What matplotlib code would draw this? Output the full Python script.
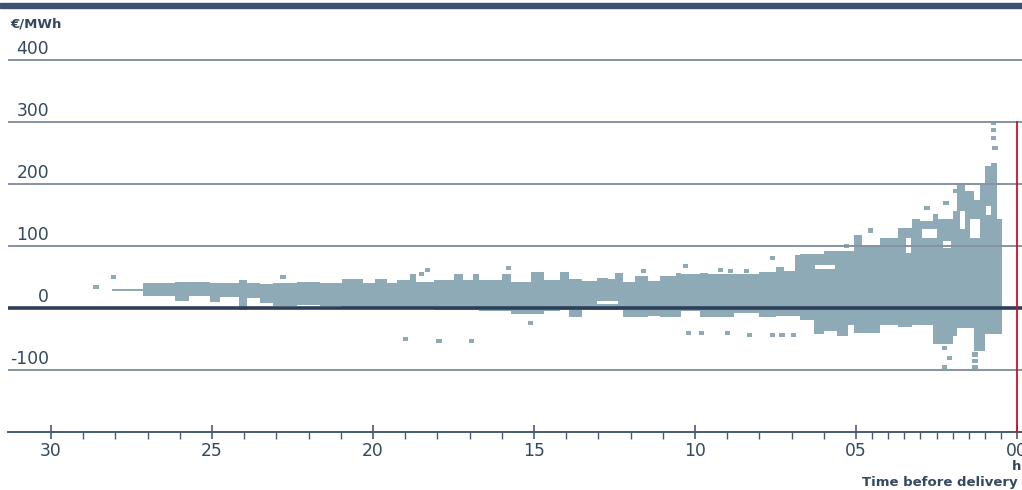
import matplotlib
matplotlib.use("Agg")
import matplotlib.pyplot as plt
from matplotlib.patches import Rectangle
import numpy as np

# ---- data: price band per time window (hours before delivery, EUR/MWh) ----
t_from = [28.10, 27.15, 26.15, 25.70, 25.05, 24.75, 24.15, 23.90, 23.50, 23.10, 22.35,
          21.65, 20.95, 20.30, 19.95, 19.55, 19.25, 18.85, 18.65, 18.10, 17.50, 17.20,
          16.90, 16.70, 16.00, 15.70, 15.10, 14.70,
          14.20, 13.90, 13.50, 13.05, 12.70, 12.50, 12.25, 11.85, 11.45, 11.10, 10.60,
          10.45, 9.85, 9.60, 8.80, 8.00, 7.50, 7.25, 6.90,
          6.75, 6.30, 6.00, 5.60, 5.25, 5.05, 4.80, 4.25, 3.85, 3.70, 3.25, 3.00, 2.60,
          2.45, 2.00, 1.85, 1.60, 1.35, 1.15, 1.00, 0.80, 0.62]
t_to = [27.15, 26.15, 25.70, 25.05, 24.75, 24.15, 23.90, 23.50, 23.10, 22.35, 21.65,
        20.95, 20.30, 19.95, 19.55, 19.25, 18.85, 18.65, 18.10, 17.50, 17.20, 16.90,
        16.70, 16.00, 15.70, 15.10, 14.70, 14.20,
        13.90, 13.50, 13.05, 12.70, 12.50, 12.25, 11.85, 11.45, 11.10, 10.60, 10.45,
        9.85, 9.60, 8.80, 8.00, 7.50, 7.25, 6.90, 6.75,
        6.30, 6.00, 5.60, 5.25, 5.05, 4.80, 4.25, 3.85, 3.70, 3.25, 3.00, 2.60, 2.45,
        2.00, 1.85, 1.60, 1.35, 1.15, 1.00, 0.80, 0.62, 0.47]
low = [28, 20, 12, 20, 10, 18, -3, 16, 8, 3, 5,
       3, 0, 0, 0, 0, -2, -2, -2, -3, -3, -3,
       -3, -5, -5, -10, -10, -5,
       -3, -15, -3, -3, -3, -3, -15, -15, -13, -15, -15,
       -5, -15, -15, -8, -15, -13, -13, -13,
       -20, -42, -37, -45, -27, -40, -40, -27, -27, -30, -27, -27, -58,
       -58, -45, -32, -32, -69, -69, -42, -42, -42]
high = [31, 40, 42, 42, 40, 40, 45, 40, 38, 40, 42,
        40, 46, 40, 46, 40, 45, 55, 42, 45, 55, 45,
        55, 45, 55, 42, 58, 45,
        58, 46, 44, 48, 46, 57, 42, 52, 44, 52, 57,
        55, 57, 55, 55, 58, 66, 60, 86,
        87, 87, 92, 92, 92, 118, 100, 113, 113, 129, 143, 141, 152,
        143, 156, 202, 189, 175, 198, 229, 234, 143]

# ---- price ranges without trades inside the band (hours, EUR/MWh) ----
gap_from = [6.27, 3.45, 2.95, 2.30, 1.77, 1.46, 13.05, 0.95]
gap_to = [5.65, 3.30, 2.48, 2.05, 1.60, 1.15, 12.40, 0.80]
gap_low = [63, 88, 113, 97, 127, 113, 6, 150]
gap_high = [70, 113, 127, 108, 156, 143, 12, 165]

# ---- isolated trades (hours before delivery, EUR/MWh) ----
iso_t = [28.60, 28.05, 22.80, 18.50, 18.30, 15.80, 11.60, 10.30, 9.20, 8.90, 8.40,
         7.60, 5.30, 4.55, 2.80, 2.20, 1.90, 0.72, 0.72, 0.72, 0.68,
         19.00, 17.95, 16.95, 15.10, 10.20, 9.80, 9.00, 8.30, 7.60, 7.30, 6.95,
         2.25, 2.10, 2.25, 1.30, 1.30, 1.30]
iso_v = [34, 50, 50, 55, 62, 65, 60, 67, 62, 60, 60,
         80, 100, 125, 162, 170, 188, 298, 287, 274, 258,
         -50, -53, -53, -24, -40, -40, -40, -43, -43, -43, -43,
         -65, -80, -95, -75, -85, -95]

y_ticks = [400, 300, 200, 100, 0, -100]
y_labels = ["400", "300", "200", "100", "0", "-100"]
x_ticks = [30, 25, 20, 15, 10, 5, 0]
x_labels = ["30", "25", "20", "15", "10", "05", "00"]

# ---- styling ----
BAND = "#8eaab6"
GRID = "#8593a3"
ZERO = "#2b4058"
TEXT = "#34485e"
AXIS = "#485c72"
RED = "#c8102e"

W, H = 1022, 490
fig = plt.figure(figsize=(W / 100, H / 100), dpi=100)

y0, y1 = -200, 410
px_per_unit = 0.62
ax_bottom_px = 432
ax_top_px = ax_bottom_px - (y1 - y0) * px_per_unit
ax_left_px = 8
ax = fig.add_axes([ax_left_px / W, 1 - ax_bottom_px / H, (W - ax_left_px) / W,
                   (ax_bottom_px - ax_top_px) / H])

x_left = (1017 - ax_left_px) / 32.2
x_right = (1017 - W) / 32.2
ax.set_xlim(x_left, x_right)
ax.set_ylim(y0, y1)

t_from_a = np.array(t_from)
t_to_a = np.array(t_to)
low_a = np.array(low)
high_a = np.array(high)
ax.bar(t_to_a, high_a - low_a, width=t_from_a - t_to_a, bottom=low_a, align="edge",
       color=BAND, linewidth=0, zorder=2)

g_from = np.array(gap_from)
g_to = np.array(gap_to)
g_low = np.array(gap_low)
g_high = np.array(gap_high)
ax.bar(g_to, g_high - g_low, width=g_from - g_to, bottom=g_low, align="edge",
       color="white", linewidth=0, zorder=2.2)

cell_w = 1 / 6
cell_h = 6.5
ax.bar(np.array(iso_t) - cell_w / 2, cell_h, width=cell_w,
       bottom=np.array(iso_v) - cell_h / 2, align="edge", color=BAND, linewidth=0, zorder=2.4)

# grid lines on top of data
for v in y_ticks:
    if v == 0:
        ax.axhline(0, color=ZERO, lw=2.6, zorder=4)
    else:
        ax.axhline(v, color=GRID, lw=1.4, zorder=3)

# y labels (right aligned above grid lines)
for v, lab in zip(y_ticks, y_labels):
    ax.text((49 - ax_left_px) / (W - ax_left_px), v + 4, lab, transform=ax.get_yaxis_transform(),
            ha="right", va="bottom", fontsize=12.3, color=TEXT, family="DejaVu Sans")

# red delivery line
ax.plot([0, 0], [y0, 300], color=RED, lw=1.3, zorder=5, clip_on=False)

# axes styling
for s in ["top", "right", "left"]:
    ax.spines[s].set_visible(False)
ax.spines["bottom"].set_color(AXIS)
ax.spines["bottom"].set_linewidth(1.4)
ax.set_yticks([])
ax.set_xticks(x_ticks)
ax.set_xticklabels(x_labels)
minor = [h for h in range(6, 30) if h % 5 != 0] + [0.5, 1, 1.5, 2, 2.5, 3, 3.5, 4, 4.5]
ax.set_xticks(minor, minor=True)
ax.tick_params(axis="x", which="major", direction="inout", length=10, width=1.2,
               color=AXIS, labelsize=12.3, labelcolor=TEXT, pad=2)
ax.tick_params(axis="x", which="minor", direction="out", length=5, width=1.0, color=AXIS)

# top band
fig.patches.append(Rectangle((0, 1 - 8 / H), 1, 5 / H, transform=fig.transFigure,
                             color="#3e5170", zorder=0))

fig.text(10 / W, 1 - 24 / H, "€/MWh", fontsize=9.5, fontweight="bold", color=TEXT,
         ha="left", va="center")
fig.text(1012 / W, 1 - 466 / H, "h", fontsize=9.5, fontweight="bold", color=TEXT,
         ha="left", va="center")
fig.text(1018 / W, 1 - 482 / H, "Time before delivery", fontsize=9.5, fontweight="bold",
         color=TEXT, ha="right", va="center")

fig.savefig("out.png", dpi=100)
